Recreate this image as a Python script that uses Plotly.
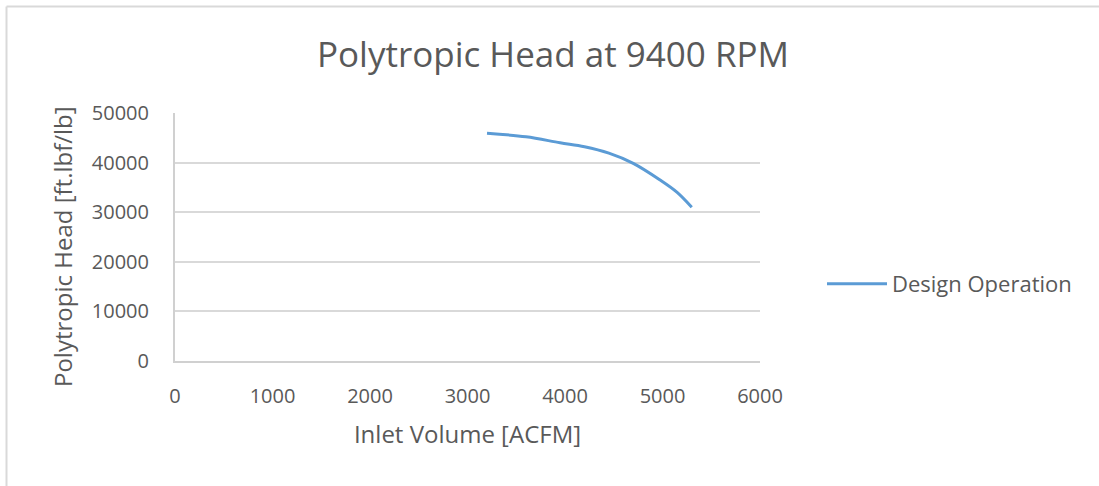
import plotly.graph_objects as go

inlet_volume = [3200, 3600, 3950, 4200, 4450, 4700, 4975, 5150, 5300]
poly_head = [45900, 45200, 44000, 43200, 41900, 39850, 36500, 34000, 31000]
series_name = "Design Operation"
x_ticks = [0, 1000, 2000, 3000, 4000, 5000, 6000]
y_ticks = [0, 10000, 20000, 30000, 40000, 50000]

W, H = 1099, 486
L, R, T, B = 175, 339, 113, 125
pw, ph = W - L - R, H - T - B

txt = "#595959"
font = "Open Sans"

fig = go.Figure()
fig.add_trace(go.Scatter(
    x=inlet_volume, y=poly_head, mode="lines", name=series_name,
    line=dict(color="#5B9BD5", width=3, shape="spline", smoothing=1.0),
))

fig.update_layout(
    width=W, height=H,
    margin=dict(l=L, r=R, t=T, b=B),
    paper_bgcolor="white", plot_bgcolor="white",
    font=dict(family=font, color=txt, size=18),
    title=dict(text="Polytropic Head at 9400 RPM", x=(553) / W, xanchor="center",
               y=1 - 55 / H, yanchor="middle",
               font=dict(size=35, color=txt, family=font)),
    xaxis=dict(range=[0, 6000], tickvals=x_ticks, tickformat="d", showgrid=False, zeroline=False,
               showline=True, linecolor="#D0D0D0", linewidth=2, ticks="",
               tickfont=dict(size=20, color=txt), ticklabelstandoff=16,
               title=dict(text="Inlet Volume [ACFM]", font=dict(size=24, color=txt), standoff=18)),
    yaxis=dict(range=[0, 50000], tickvals=y_ticks, tickformat="d", showgrid=True, gridcolor="#D9D9D9",
               gridwidth=1.5, zeroline=False, showline=True, linecolor="#D0D0D0", linewidth=2,
               ticks="", tickfont=dict(size=20, color=txt), ticklabelstandoff=20),
    showlegend=True,
    legend=dict(x=(822 - L) / pw, y=(H - B - 284) / ph, xanchor="left", yanchor="middle",
                font=dict(size=22, color=txt), bgcolor="rgba(0,0,0,0)", itemwidth=60),
)

fig.add_annotation(text="Polytropic Head [ft.lbf/lb]", xref="paper", yref="paper",
                   x=(62 - L) / pw, y=(H - B - 247) / ph, xanchor="center", yanchor="middle",
                   textangle=-90, showarrow=False, font=dict(size=24, color=txt, family=font))

# outer chart frame (top and left edges visible)
fx0 = (6.5 - L) / pw
fy1 = (H - B - 6.5) / ph
fig.add_shape(type="line", xref="paper", yref="paper", x0=fx0, x1=(W + 5 - L) / pw,
              y0=fy1, y1=fy1, line=dict(color="#D9D9D9", width=2))
fig.add_shape(type="line", xref="paper", yref="paper", x0=fx0, x1=fx0,
              y0=(-B - 5) / ph, y1=fy1, line=dict(color="#D9D9D9", width=2))

fig.write_html("out.html")
